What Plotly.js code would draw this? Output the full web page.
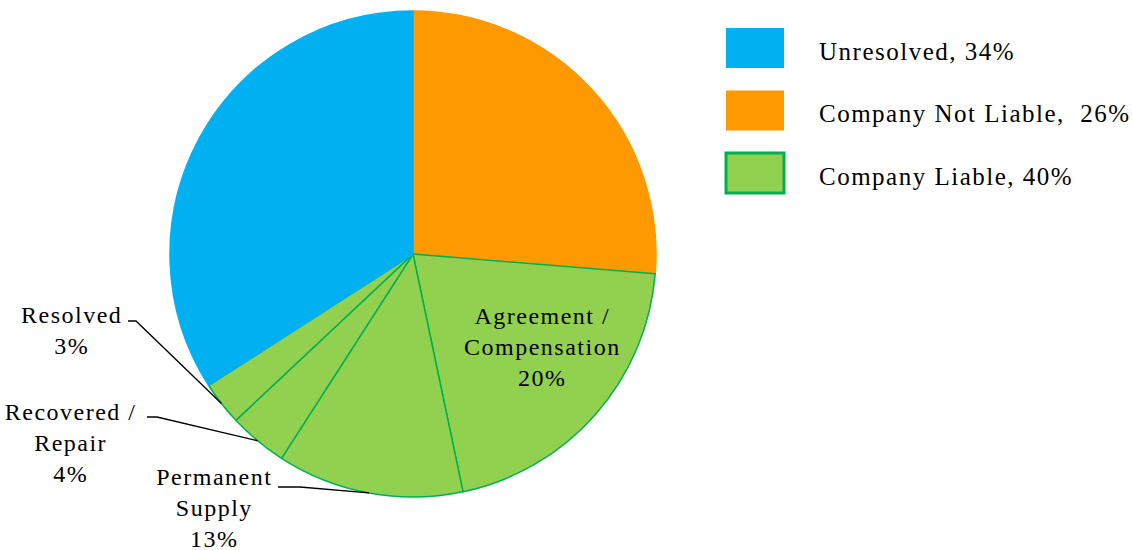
<!DOCTYPE html>
<html>
<head>
<meta charset="utf-8">
<script src="https://cdn.plot.ly/plotly-3.0.1.min.js"></script>
<style>
html,body{margin:0;padding:0;background:#fff;}
#chart{width:1132px;height:550px;}
#chart .annotation-text{letter-spacing:1.5px;}
</style>
</head>
<body>
<div id="chart"></div>
<script>
// ---- data ----
const sliceLabels = ["Company Not Liable", "Agreement / Compensation", "Permanent Supply", "Recovered / Repair", "Resolved", "Unresolved"];
const sliceValues = [26.3, 20.4, 12.4, 3.9, 2.9, 34.1];
const sliceText = ["", "Agreement /<br>Compensation<br>20%", "Permanent<br>Supply<br>13%", "Recovered /<br>Repair<br>4%", "Resolved<br>3%", ""];
const legendLabels = ["Unresolved, 34%", "Company Not Liable,  26%", "Company Liable, 40%"];

// ---- styles ----
const BLUE = "#00B0F0", ORANGE = "#FF9900", GREEN = "#92D050", DGREEN = "#00B050";
const sliceColors = [ORANGE, GREEN, GREEN, GREEN, GREEN, BLUE];
const sliceLines = [ORANGE, DGREEN, DGREEN, DGREEN, DGREEN, BLUE];
const legendFill = [BLUE, ORANGE, GREEN];
const legendLine = [BLUE, ORANGE, DGREEN];
const FONT = "'Times New Roman', 'Liberation Serif', serif";

const W = 1132, H = 550;
const domX = [170 / W, 656 / W];
const domY = [53 / H, 539 / H];

// label layout (text centres & leader elbows in px), keyed by slice index
const labelLayout = {
  1: {x: 542, y: 347, leader: null},
  2: {x: 214, y: 508, leader: [[278, 487], [300, 487]]},
  3: {x: 71, y: 443, leader: [[147, 417], [157, 417]]},
  4: {x: 71, y: 330, leader: [[128, 321], [136, 321]]}
};

const cx = W * (domX[0] + domX[1]) / 2;
const cy = H * (1 - (domY[0] + domY[1]) / 2);
const R = Math.min(W * (domX[1] - domX[0]), H * (domY[1] - domY[0])) / 2;
const total = sliceValues.reduce((a, b) => a + b, 0);

const px = x => x / W, py = y => 1 - y / H;

const annotations = [];
const shapes = [];
let cum = 0;
sliceValues.forEach((v, i) => {
  const mid = (cum + v / 2) / total * 2 * Math.PI;
  cum += v;
  const L = labelLayout[i];
  if (!L) return;
  annotations.push({
    xref: "paper", yref: "paper", x: px(L.x), y: py(L.y),
    xanchor: "center", yanchor: "middle", showarrow: false,
    text: sliceText[i], align: "center",
    font: {family: FONT, size: 24, color: "#000"}
  });
  if (L.leader) {
    const tx = cx + R * Math.sin(mid), ty = cy - R * Math.cos(mid);
    const [p0, p1] = L.leader;
    shapes.push({
      type: "path", xref: "paper", yref: "paper",
      path: `M ${px(p0[0])} ${py(p0[1])} L ${px(p1[0])} ${py(p1[1])} L ${px(tx)} ${py(ty)}`,
      line: {color: "#000", width: 1.3}
    });
  }
});

// custom legend
legendLabels.forEach((t, i) => {
  const top = 28 + i * 62.5;
  shapes.push({
    type: "rect", xref: "paper", yref: "paper",
    x0: px(726), x1: px(784), y0: py(top), y1: py(top + 40),
    fillcolor: legendFill[i], line: {color: legendLine[i], width: i === 2 ? 3 : 0}
  });
  annotations.push({
    xref: "paper", yref: "paper", x: px(817), y: py(top + 23),
    xanchor: "left", yanchor: "middle", align: "left", showarrow: false,
    text: t, font: {family: FONT, size: 25, color: "#000"}
  });
});

const trace = {
  type: "pie",
  labels: sliceLabels,
  values: sliceValues,
  sort: false,
  direction: "clockwise",
  rotation: 0,
  textinfo: "none",
  hoverinfo: "label+percent",
  domain: {x: domX, y: domY},
  marker: {colors: sliceColors, line: {color: sliceLines, width: 1.5}},
  showlegend: false
};

Plotly.newPlot("chart", [trace], {
  width: W, height: H,
  margin: {l: 0, r: 0, t: 0, b: 0},
  paper_bgcolor: "#fff",
  showlegend: false,
  annotations: annotations,
  shapes: shapes
}, {displayModeBar: false, staticPlot: true});
</script>
</body>
</html>
